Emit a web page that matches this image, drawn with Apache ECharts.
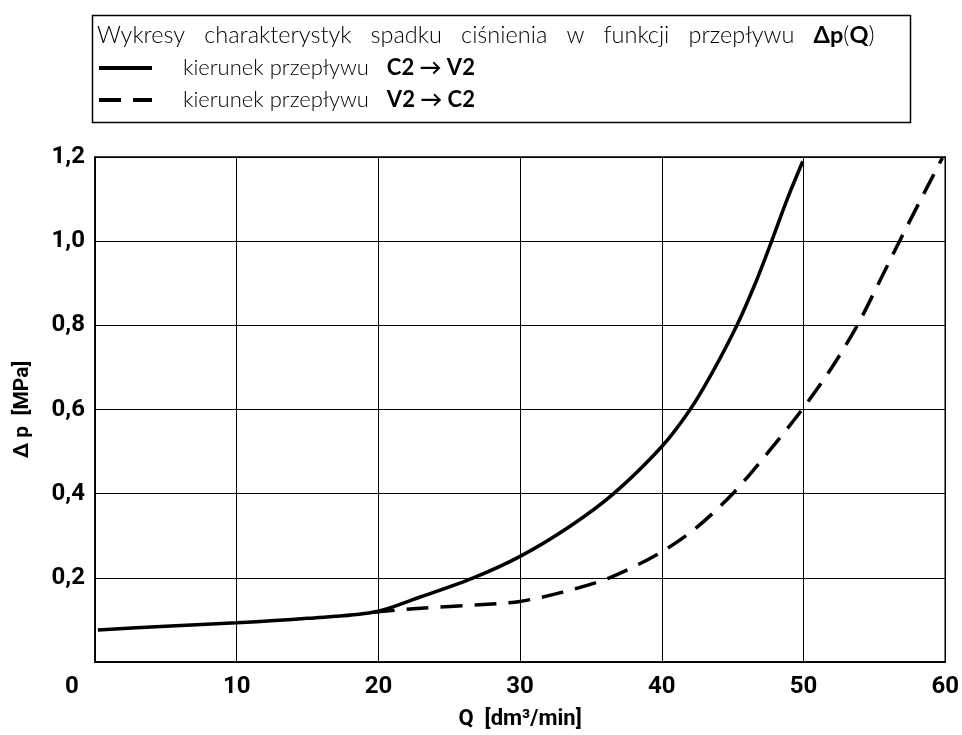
<!DOCTYPE html>
<html><head><meta charset="utf-8">
<script src="https://cdn.jsdelivr.net/npm/echarts@6/dist/echarts.min.js"></script>
<style>html,body{margin:0;padding:0;background:#fff}#c{width:962px;height:735px}</style>
</head><body><div id="c"></div>
<script>
// Data
const flowC2V2 = [[0.2,0.076],[5,0.085],[10,0.093],[15,0.104],[19.6,0.118],[23,0.155],[26.7,0.2],[30,0.251],[33.5,0.322],[36.6,0.40],[40,0.512],[42.0,0.60],[43.6,0.69],[45.3,0.80],[46.6,0.90],[47.75,1.0],[48.85,1.1],[49.95,1.19]];
const flowV2C2 = [[19.6,0.118],[23,0.128],[27.1,0.136],[30,0.144],[33,0.166],[36.3,0.20],[39.8,0.258],[42.4,0.318],[45,0.40],[47.3,0.49],[49.9,0.60],[52.0,0.70],[53.8,0.80],[55.3,0.90],[56.7,0.995],[58.2,1.094],[59.8,1.198]];
const seriesNames = ['kierunek przepływu|C2 → V2','kierunek przepływu|V2 → C2'];
const chartTitle = 'Wykresy   charakterystyk   spadku   ciśnienia   w   funkcji   przepływu   ';
const xTicks = [0,10,20,30,40,50,60];
const yTicks = [0,0.2,0.4,0.6,0.8,1.0,1.2];

const LIGHT = '"Lato","Open Sans","Noto Sans",sans-serif';
const FONT = 'Roboto,"Liberation Sans",sans-serif';
const chart = echarts.init(document.getElementById('c'));
chart.setOption({
  animation:false,
  textStyle:{fontFamily:FONT},
  title:{
    text: chartTitle + '{b|Δp}{n|(}{b|Q}{n|)}',
    left:92, top:18,
    textStyle:{fontFamily:LIGHT,fontSize:23.5,fontWeight:300,color:'#000',
      rich:{b:{fontFamily:LIGHT,fontSize:23.5,fontWeight:'bold',color:'#000'},n:{fontFamily:LIGHT,fontSize:23.5,fontWeight:300,color:'#000'}}}
  },
  graphic:[{type:'rect',left:90,top:13,shape:{width:818,height:107},style:{fill:'none',stroke:'#000',lineWidth:1.5},silent:true}],
  legend:{
    orient:'vertical', left:92, top:52, itemGap:10, itemWidth:53, itemHeight:14,
    data:seriesNames.map(function(n){return {name:n,itemStyle:{opacity:0}};}),
    lineStyle:{width:4},
    formatter:function(n){const p=n.split('|');return '{n|'+p[0]+'   }{b|'+p[1]+'}';},
    textStyle:{padding:[0,0,0,26],rich:{n:{fontFamily:LIGHT,fontSize:22,fontWeight:300,color:'#000'},b:{fontFamily:LIGHT,fontSize:22,fontWeight:'bold',color:'#000'}}}
  },
  grid:{left:95,right:16,top:157,bottom:73,show:true,borderColor:'#000',borderWidth:1.5},
  xAxis:{type:'value',min:0,max:60,interval:10,
    axisLine:{show:true,lineStyle:{color:'#000',width:1.5}},axisTick:{show:false},
    splitLine:{show:true,lineStyle:{color:'#000',width:1}},
    axisLabel:{margin:13,fontFamily:FONT,fontSize:24,fontWeight:'bold',color:'#000',
      formatter:function(v){return v===0?'{z|0}':String(v);},
      rich:{z:{fontFamily:FONT,fontSize:24,fontWeight:'bold',color:'#000',padding:[0,46,0,0]}}},
    name:'Q  [dm³/min]',nameLocation:'middle',nameGap:46,
    nameTextStyle:{fontFamily:FONT,fontSize:22,fontWeight:'bold',color:'#000'}
  },
  yAxis:{type:'value',min:0,max:1.2,interval:0.2,
    axisLine:{show:true,lineStyle:{color:'#000',width:1.5}},axisTick:{show:false},
    splitLine:{show:true,lineStyle:{color:'#000',width:1}},
    axisLabel:{margin:10,fontFamily:FONT,fontSize:24,fontWeight:'bold',color:'#000',
      formatter:function(v){return v===0?'':v.toFixed(1).replace('.',',');}},
    name:'Δ p  [MPa]',nameLocation:'middle',nameGap:62,nameRotate:90,
    nameTextStyle:{fontFamily:FONT,fontSize:21,fontWeight:'bold',color:'#000'}
  },
  series:[
    {name:seriesNames[0],type:'line',data:flowC2V2,smooth:0.3,symbol:'none',
      lineStyle:{color:'#000',width:3.5,type:'solid'},itemStyle:{color:'#000'}},
    {name:seriesNames[1],type:'line',data:flowV2C2,smooth:0.3,symbol:'none',
      lineStyle:{color:'#000',width:3.5,type:[22,12]},itemStyle:{color:'#000'}}
  ]
});
</script></body></html>
